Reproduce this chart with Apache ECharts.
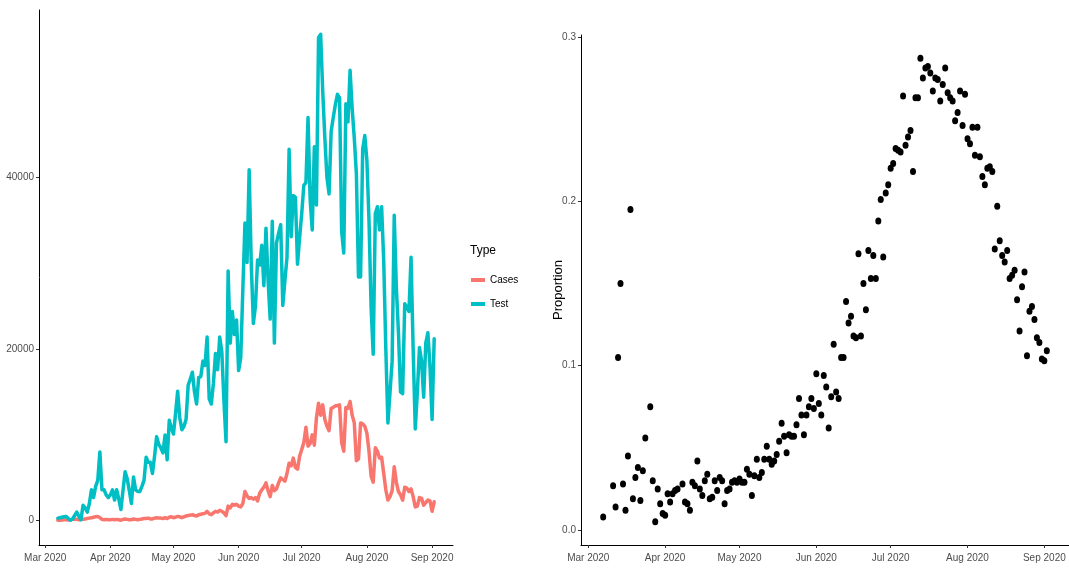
<!DOCTYPE html>
<html>
<head>
<meta charset="utf-8">
<script src="https://cdn.jsdelivr.net/npm/echarts@6/dist/echarts.min.js"></script>
<style>
html,body{margin:0;padding:0;background:#fff;}
#chart{width:1069px;height:568px;}
</style>
</head>
<body>
<div id="chart"></div>
<script>
// first date of the daily series (one value per day)
const startDate = '2020-03-07';

// Daily tests (Mar 7 .. Sep 2)
const testValues = [
  300,350,400,450,500,250,50,200,600,1000,500,100,1800,1500,1000,2000,3600,2700,4000,4700,8000,3600,3600,3000,2700,
  3000,3600,2400,3600,2500,1300,3500,5700,4900,3500,2000,5100,3600,3400,3400,4000,4700,7400,6800,6800,5500,7500,9800,8900,8500,7900,10000,7100,11700,10800,
  10100,12500,15100,12000,10600,11000,11800,15800,16500,17300,15000,13600,16700,16800,18600,18100,21400,14200,13600,16000,19500,17600,21400,19700,14000,9200,29100,20700,24400,21700,23400,
  17500,19000,27000,34700,30100,40900,30000,23000,25000,30400,29800,32100,27400,34100,28000,23500,34900,20700,32400,33500,34500,25100,28000,30700,43300,33100,37900,37700,29900,33000,
  35800,39100,39400,47000,37500,33900,43600,36800,56300,56700,50000,44600,40000,38100,45400,47000,48500,49700,49300,33700,31200,48600,46500,52500,48000,44600,40400,28400,28400,43300,44900,
  42000,35000,24900,19400,35800,36600,33900,36600,30300,20000,11400,15000,18600,35600,27200,22000,15000,14800,25300,24900,24400,30700,20000,10700,15000,20200,18600,14400,20700,21900,18000,
  11800,21200
];

// Daily cases (Mar 7 .. Sep 2)
const caseValues = [
  50,60,80,100,100,80,100,150,200,150,100,200,150,200,250,300,350,400,450,500,350,150,100,150,100,
  100,150,100,150,100,50,150,200,150,100,100,200,150,100,150,200,250,250,300,200,200,300,350,300,300,250,350,250,400,450,
  350,400,500,450,350,450,550,600,650,700,600,550,700,750,800,850,1100,800,700,900,1100,1000,1200,1100,900,600,1700,1500,1900,1800,1900,
  1700,1600,2000,3400,2900,2600,2700,2500,2700,2300,3200,3600,3900,4400,3500,2800,4100,3500,3700,4400,5000,4800,4600,5500,6700,6400,7300,6200,6000,7500,
  8300,9100,10900,8700,9000,10000,8800,12000,13700,12300,13500,11800,11000,10500,13100,13200,13400,13400,13500,9100,8100,13200,13100,13900,12300,11400,7000,7200,11400,11300,11000,
  10200,8100,5200,4500,8500,8100,7300,7400,5500,3600,2400,2800,3500,6300,4500,3400,3000,2400,3900,3800,3400,3700,2800,1600,1700,2700,2600,1800,2100,2400,2300,
  1100,2200
];

// Daily proportion (Mar 7 .. Sep 2), null = no point
const proportionValues = [
  0.008,null,null,null,0.027,0.014,0.105,0.150,0.028,0.012,0.045,0.195,0.019,0.032,0.038,0.018,0.036,0.056,null,0.075,0.030,0.005,0.025,0.016,0.010,
  0.009,0.022,0.017,0.022,0.024,0.025,null,0.028,0.017,0.016,0.012,0.029,0.027,0.042,0.025,0.021,0.030,0.034,0.019,0.020,0.030,0.024,0.032,0.030,0.016,0.024,0.025,0.029,0.030,0.029,
  0.031,0.029,0.029,0.037,0.034,0.021,0.033,0.043,0.032,0.035,0.043,0.051,0.043,0.040,0.042,0.046,0.054,0.065,0.057,0.047,0.058,0.057,0.057,0.064,0.080,0.070,0.058,0.070,0.075,0.080,0.074,
  0.095,0.077,0.070,0.094,0.087,0.062,0.081,0.113,0.084,0.080,0.105,0.105,0.139,0.126,0.130,0.118,0.117,0.168,0.118,0.150,0.134,0.170,0.153,0.167,0.153,0.188,0.201,0.166,0.205,0.210,
  0.220,0.223,0.232,0.231,0.230,0.264,0.234,0.239,0.243,0.218,0.263,0.263,0.287,0.275,0.281,0.282,0.278,0.267,0.275,0.274,0.261,0.271,0.281,0.266,0.263,0.261,0.249,0.254,0.267,0.246,0.265,
  0.238,0.235,0.245,0.228,0.245,0.227,0.215,0.210,0.220,0.221,0.218,0.171,0.197,0.176,0.167,0.163,0.170,0.153,0.155,0.158,0.140,0.121,0.148,0.157,0.106,0.133,0.136,0.128,0.117,0.114,0.104,
  0.103,0.109
];

// axis ticks
const monthTickDates = ['2020-03-01','2020-04-01','2020-05-01','2020-06-01','2020-07-01','2020-08-01','2020-09-01'];
const monthTickLabels = ['Mar 2020','Apr 2020','May 2020','Jun 2020','Jul 2020','Aug 2020','Sep 2020'];
const countTicks = [0, 20000, 40000];
const countTickLabels = ['0', '20000', '40000'];
const propTicks = [0, 0.1, 0.2, 0.3];
const propTickLabels = ['0.0', '0.1', '0.2', '0.3'];

const seriesNames = ['Cases', 'Test'];
const seriesColors = ['#F8766D', '#00BFC4'];

// ---- build ----
const DAY = 86400000;
function utc(s){ const p = s.split('-').map(Number); return Date.UTC(p[0], p[1]-1, p[2]); }
const t0 = utc(startDate);
const times = testValues.map((_, i) => t0 + i * DAY);
const tickTimes = monthTickDates.map(utc);

const span = times[times.length-1] - times[0];
const xMin = times[0] - span * 0.05, xMax = times[times.length-1] + span * 0.05;
const maxCount = Math.max(...testValues);
const yMin = -maxCount * 0.05, yMax = maxCount * 1.05;
const props = proportionValues.filter(v => v != null);
const pMinV = Math.min(...props), pMaxV = Math.max(...props);
const pSpan = pMaxV - pMinV;
const pMin = pMinV - pSpan * 0.05, pMax = pMaxV + pSpan * 0.05;

const FONT = "'Liberation Sans Narrow', 'Liberation Sans', Arial, sans-serif";
function labelFor(list, labels){
  return function(v){
    let best = 0, bd = Infinity;
    list.forEach((t, i) => { const d = Math.abs(t - v); if (d < bd) { bd = d; best = i; } });
    return labels[best];
  };
}
function xAxisCfg(gridIndex){
  return {
    type: 'value', gridIndex, min: xMin, max: xMax, scale: true,
    axisLine: { show: true, onZero: false, lineStyle: { color: '#000', width: 1 } },
    axisTick: { show: true, length: 3, lineStyle: { color: '#333' }, customValues: tickTimes },
    axisLabel: { customValues: tickTimes, formatter: labelFor(tickTimes, monthTickLabels),
      color: '#4D4D4D', fontFamily: FONT, fontSize: 10, margin: 8, hideOverlap: false },
    splitLine: { show: false }, minorTick: { show: false }
  };
}

const chart = echarts.init(document.getElementById('chart'), null, { renderer: 'canvas' });
chart.setOption({
  animation: false,
  backgroundColor: '#fff',
  grid: [
    { left: 39, top: 10, width: 414, height: 535 },
    { left: 581, top: 35, width: 493, height: 510 }
  ],
  xAxis: [ xAxisCfg(0), xAxisCfg(1) ],
  yAxis: [
    { type: 'value', gridIndex: 0, min: yMin, max: yMax,
      axisLine: { show: true, onZero: false, lineStyle: { color: '#000', width: 1 } },
      axisTick: { show: true, length: 3, lineStyle: { color: '#333' }, customValues: countTicks },
      axisLabel: { customValues: countTicks, formatter: labelFor(countTicks, countTickLabels),
        color: '#4D4D4D', fontFamily: FONT, fontSize: 10, margin: 5 },
      splitLine: { show: false } },
    { type: 'value', gridIndex: 1, min: pMin, max: pMax,
      name: 'Proportion', nameLocation: 'middle', nameRotate: 90, nameGap: 16, nameMoveOverlap: false,
      nameTextStyle: { color: '#000', fontFamily: "'Liberation Sans', Arial, sans-serif", fontSize: 13 },
      axisLine: { show: true, onZero: false, lineStyle: { color: '#000', width: 1 } },
      axisTick: { show: true, length: 3, lineStyle: { color: '#333' }, customValues: propTicks },
      axisLabel: { customValues: propTicks, formatter: labelFor(propTicks, propTickLabels),
        color: '#4D4D4D', fontFamily: FONT, fontSize: 10, margin: 5 },
      splitLine: { show: false } }
  ],
  legend: {
    data: seriesNames, orient: 'vertical', left: 471, top: 275, padding: 0,
    icon: 'rect', itemWidth: 14, itemHeight: 4, itemGap: 14,
    textStyle: { fontFamily: FONT, fontSize: 10, color: '#000' }
  },
  graphic: [
    { type: 'text', left: 470, top: 245, style: { text: 'Type', font: "12px 'Liberation Sans Narrow', 'Liberation Sans', Arial, sans-serif", fill: '#000' } }
  ],
  series: [
    { name: seriesNames[0], type: 'line', xAxisIndex: 0, yAxisIndex: 0, showSymbol: false,
      color: seriesColors[0], lineStyle: { width: 3.5, color: seriesColors[0], join: 'round', cap: 'round' },
      data: times.map((t, i) => [t, caseValues[i]]) },
    { name: seriesNames[1], type: 'line', xAxisIndex: 0, yAxisIndex: 0, showSymbol: false,
      color: seriesColors[1], lineStyle: { width: 3.5, color: seriesColors[1], join: 'round', cap: 'round' },
      data: times.map((t, i) => [t, testValues[i]]) },
    { name: 'Proportion', type: 'scatter', xAxisIndex: 1, yAxisIndex: 1, symbol: 'circle', symbolSize: [6, 7],
      itemStyle: { color: '#000', opacity: 1 },
      data: times.map((t, i) => [t, proportionValues[i]]).filter(d => d[1] != null) }
  ]
});
</script>
</body>
</html>
